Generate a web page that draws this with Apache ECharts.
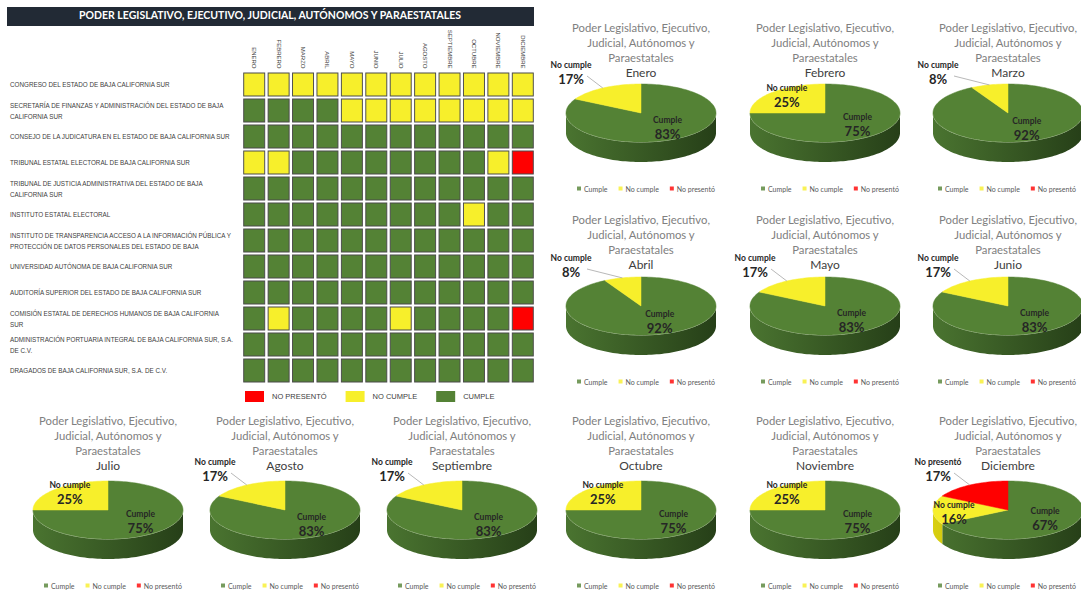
<!DOCTYPE html>
<html>
<head>
<meta charset="utf-8">
<script src="https://cdn.jsdelivr.net/npm/echarts@6/dist/echarts.min.js"></script>
<style>
  html, body { margin: 0; background: #fff; }
  #chart { width: 1081px; height: 592px; }
</style>
</head>
<body>
<div id="chart"></div>
<script>
// --- data ---
const months = ['ENERO', 'FEBRERO', 'MARZO', 'ABRIL', 'MAYO', 'JUNIO', 'JULIO', 'AGOSTO',
  'SEPTIEMBRE', 'OCTUBRE', 'NOVIEMBRE', 'DICIEMBRE'];
const pieMonths = ['Enero', 'Febrero', 'Marzo', 'Abril', 'Mayo', 'Junio', 'Julio', 'Agosto',
  'Septiembre', 'Octubre', 'Noviembre', 'Diciembre'];
const entities = [
  'CONGRESO DEL ESTADO DE BAJA CALIFORNIA SUR',
  'SECRETARÍA DE FINANZAS Y ADMINISTRACIÓN DEL ESTADO DE BAJA\nCALIFORNIA SUR',
  'CONSEJO DE LA JUDICATURA EN EL ESTADO DE BAJA CALIFORNIA SUR',
  'TRIBUNAL ESTATAL ELECTORAL DE BAJA CALIFORNIA SUR',
  'TRIBUNAL DE JUSTICIA ADMINISTRATIVA DEL ESTADO DE BAJA\nCALIFORNIA SUR',
  'INSTITUTO ESTATAL ELECTORAL',
  'INSTITUTO DE TRANSPARENCIA ACCESO A LA INFORMACIÓN PÚBLICA Y\nPROTECCIÓN DE DATOS PERSONALES DEL ESTADO DE BAJA',
  'UNIVERSIDAD AUTÓNOMA DE BAJA CALIFORNIA SUR',
  'AUDITORÍA SUPERIOR DEL ESTADO DE BAJA CALIFORNIA SUR',
  'COMISIÓN ESTATAL DE DERECHOS HUMANOS DE BAJA CALIFORNIA\nSUR',
  'ADMINISTRACIÓN PORTUARIA INTEGRAL DE BAJA CALIFORNIA SUR, S.A.\nDE C.V.',
  'DRAGADOS DE BAJA CALIFORNIA SUR, S.A. DE C.V.'
];
// 0 = cumple, 1 = no cumple, 2 = no presentó
const status = [
  [1, 1, 1, 1, 1, 1, 1, 1, 1, 1, 1, 1],
  [0, 0, 0, 0, 1, 1, 1, 1, 1, 1, 1, 1],
  [0, 0, 0, 0, 0, 0, 0, 0, 0, 0, 0, 0],
  [1, 1, 0, 0, 0, 0, 0, 0, 0, 0, 1, 2],
  [0, 0, 0, 0, 0, 0, 0, 0, 0, 0, 0, 0],
  [0, 0, 0, 0, 0, 0, 0, 0, 0, 1, 0, 0],
  [0, 0, 0, 0, 0, 0, 0, 0, 0, 0, 0, 0],
  [0, 0, 0, 0, 0, 0, 0, 0, 0, 0, 0, 0],
  [0, 0, 0, 0, 0, 0, 0, 0, 0, 0, 0, 0],
  [0, 1, 0, 0, 0, 0, 1, 0, 0, 0, 0, 2],
  [0, 0, 0, 0, 0, 0, 0, 0, 0, 0, 0, 0],
  [0, 0, 0, 0, 0, 0, 0, 0, 0, 0, 0, 0]
];
const sliceNames = ['Cumple', 'No cumple', 'No presentó'];
const cumplePct = [83, 75, 92, 92, 83, 83, 75, 83, 83, 75, 75, 67];
const noCumplePct = [17, 25, 8, 8, 17, 17, 25, 17, 17, 25, 25, 16];
const noPresentoPct = [0, 0, 0, 0, 0, 0, 0, 0, 0, 0, 0, 17];

const GREEN = '#548235', YELLOW = '#f7ef2b', RED = '#ff0000';
const TITLE = 'Poder Legislativo, Ejecutivo,\nJudicial, Autónomos y\nParaestatales';

// where each small pie sits
const pieRows = [
  { xs: [641, 825, 1008], titleTop: 20, pieTop: 84, legendTop: 185 },
  { xs: [641, 825, 1008], titleTop: 212, pieTop: 277, legendTop: 378 },
  { xs: [108, 285, 462, 641, 825, 1008], titleTop: 413, pieTop: 481, legendTop: 582 }
];
const slots = [];
pieRows.forEach(r => r.xs.forEach(x => slots.push({ cx: x, titleTop: r.titleTop, pieTop: r.pieTop, legendTop: r.legendTop })));

const RX = 75, RY = 29, DEPTH = 20;

function pieRender(m) {
  const slot = slots[m];
  const cx = slot.cx, cy = slot.pieTop + RY;
  const vals = [cumplePct[m], noCumplePct[m], noPresentoPct[m]];
  const total = vals.reduce((a, b) => a + b, 0);
  const pt = (deg, dy, f) => {
    const r = deg * Math.PI / 180;
    const k = f == null ? 1 : f;
    return [cx + RX * k * Math.sin(r), cy - RY * k * Math.cos(r) + (dy || 0)];
  };
  const arc = (a, b, dy) => {
    const out = [];
    const n = Math.max(2, Math.ceil((b - a) / 2));
    for (let j = 0; j <= n; j++) out.push(pt(a + (b - a) * j / n, dy));
    return out;
  };
  const topColors = [GREEN, YELLOW, RED];
  const sideColors = [['#4a7430', '#263f18'], ['#d8cf10', '#a39b00'], ['#cc0000', '#8c0000']];

  return function (params, api) {
    const i = params.dataIndex;
    const v = api.value(0);
    if (!v) return { type: 'group', children: [] };
    let before = 0;
    for (let k = 0; k < i; k++) before += vals[k];
    const a0 = before / total * 360, a1 = (before + v) / total * 360;
    const children = [];

    // side wall on the front half
    const s = Math.max(a0, 90), e = Math.min(a1, 270);
    if (s < e) {
      const topEdge = arc(s, e, 0);
      const botEdge = arc(s, e, DEPTH).reverse();
      children.push({
        type: 'polygon',
        shape: { points: topEdge.concat(botEdge) },
        style: {
          fill: {
            type: 'linear', x: cx - RX, y: 0, x2: cx + RX, y2: 0, global: true,
            colorStops: [{ offset: 0, color: sideColors[i][0] }, { offset: 1, color: sideColors[i][1] }]
          }
        }
      });
      children.push({
        type: 'polyline', shape: { points: topEdge },
        style: { stroke: 'rgba(235,240,225,0.8)', lineWidth: 1, fill: null }
      });
    }
    // top face
    children.push({
      type: 'polygon',
      shape: { points: [[cx, cy]].concat(arc(a0, a1, 0)) },
      style: { fill: topColors[i], stroke: topColors[i], lineWidth: 0.5 }
    });

    // labels
    const mid = (a0 + a1) / 2;
    const pct = v + '%';
    const isLast = vals.slice(i + 1).every(x => !x);
    let lx, ly;
    if (i === 0) {
      const r = mid * Math.PI / 180;
      lx = cx + RX * (0.15 + 0.4 * Math.sin(r));
      ly = cy - RY * 0.55 * Math.cos(r);
    } else if (isLast && v < 20) {
      lx = cx - 70;
      ly = cy - 41;
      const edge = pt(mid, 0);
      children.push({
        type: 'line', z2: 5,
        shape: { x1: cx - 54, y1: cy - 37, x2: edge[0], y2: edge[1] },
        style: { stroke: '#a6a6a6', lineWidth: 0.8 }
      });
    } else {
      const p = pt(mid, 0, 0.72);
      lx = p[0];
      ly = p[1] + (Math.abs(mid - 270) < 30 ? 2 : -3);
    }
    children.push({
      type: 'text', z2: 10,
      style: { text: sliceNames[i], x: lx, y: ly - 7, fill: '#262626', font: 'bold 8.5px Lato', align: 'center', verticalAlign: 'middle' }
    });
    children.push({
      type: 'text', z2: 10,
      style: { text: pct, x: lx, y: ly + 7, fill: '#262626', font: 'bold 13px Lato', align: 'center', verticalAlign: 'middle' }
    });
    return { type: 'group', children };
  };
}

const cells = [];
status.forEach((row, r) => row.forEach((s, c) => cells.push([c, r, s])));

const chart = echarts.init(document.getElementById('chart'), null, { renderer: 'svg' });

const titles = [{
  text: 'PODER LEGISLATIVO, EJECUTIVO, JUDICIAL, AUTÓNOMOS Y PARAESTATALES',
  left: 270, top: 9, textAlign: 'center', padding: 0,
  textStyle: { color: '#ffffff', fontSize: 10.5, fontWeight: 'bold', fontFamily: 'Lato' }
}];
const legends = [];
const series = [{
  type: 'scatter',
  data: cells,
  symbol: 'rect',
  symbolSize: [21, 23],
  itemStyle: { borderColor: '#4a4a4a', borderWidth: 1, opacity: 1 },
  silent: true
}];
sliceNames.forEach((n, k) => series.push({
  type: 'scatter', name: n, data: [], itemStyle: { color: [GREEN, YELLOW, RED][k] }
}));

pieMonths.forEach((name, m) => {
  const slot = slots[m];
  titles.push({
    text: TITLE, subtext: name,
    left: slot.cx, top: slot.titleTop, textAlign: 'center', padding: 0, itemGap: 0,
    textStyle: { fontFamily: 'Lato', fontSize: 11.3, fontWeight: 'normal', color: '#808080', lineHeight: 15 },
    subtextStyle: { fontFamily: 'Lato', fontSize: 12, color: '#404040', lineHeight: 15 }
  });
  legends.push({
    data: sliceNames, left: Math.min(slot.cx - 64, 938), top: slot.legendTop, icon: 'rect',
    itemWidth: 4, itemHeight: 4, itemGap: 11, selectedMode: false, padding: 0,
    textStyle: { fontFamily: 'Lato', fontSize: 7, color: '#595959', padding: [0, 0, 0, -2] }
  });
  series.push({
    type: 'custom',
    name: name,
    coordinateSystem: 'none',
    renderItem: pieRender(m),
    data: [cumplePct[m], noCumplePct[m], noPresentoPct[m]].map((v, k) => ({ name: sliceNames[k], value: [v] })),
    silent: true
  });
});

chart.setOption({
  backgroundColor: '#ffffff',
  animation: false,
  title: titles,
  legend: legends,
  graphic: [{
    type: 'rect', left: 7, top: 7, z: -1,
    shape: { width: 527, height: 19 },
    style: { fill: '#222a35' }
  }],
  grid: { left: 242, top: 71.5, width: 293, height: 312 },
  xAxis: {
    type: 'category', data: months, position: 'top',
    axisLine: { show: false }, axisTick: { show: false }, splitLine: { show: false },
    axisLabel: { rotate: 90, fontSize: 6, margin: 3, color: '#404040', fontFamily: 'Liberation Sans', interval: 0 }
  },
  yAxis: {
    type: 'category', data: entities, inverse: true,
    axisLine: { show: false }, axisTick: { show: false }, splitLine: { show: false },
    axisLabel: { align: 'left', margin: 232, fontSize: 6.3, lineHeight: 11, color: '#404040', fontFamily: 'Liberation Sans', interval: 0 }
  },
  visualMap: {
    type: 'piecewise', seriesIndex: 0, dimension: 2, orient: 'horizontal', inverse: true,
    left: 245, top: 391, itemWidth: 19, itemHeight: 11, itemGap: 19, textGap: 8,
    itemSymbol: 'rect', selectedMode: false, padding: 0,
    pieces: [
      { value: 0, label: 'CUMPLE', color: GREEN },
      { value: 1, label: 'NO CUMPLE', color: YELLOW },
      { value: 2, label: 'NO PRESENTÓ', color: RED }
    ],
    textStyle: { fontSize: 7.5, color: '#404040', fontFamily: 'Liberation Sans' }
  },
  series: series
});
</script>
</body>
</html>
